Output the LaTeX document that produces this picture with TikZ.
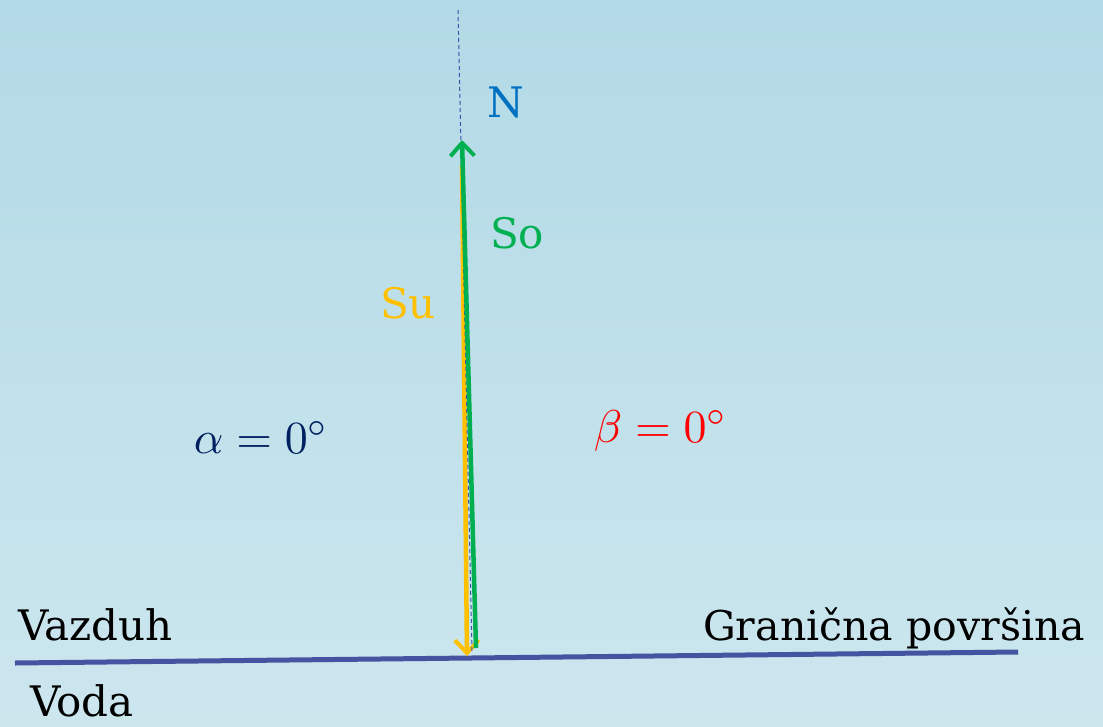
\documentclass[tikz,border=0pt]{standalone}
\usepackage[no-math]{fontspec}
\setmainfont{DejaVu Serif}
\usetikzlibrary{arrows.meta}
\definecolor{bgtop}{RGB}{178,218,230}
\definecolor{bgbot}{RGB}{204,230,238}
\definecolor{surf}{RGB}{68,84,160}
\definecolor{normc}{RGB}{60,80,170}
\definecolor{greenc}{RGB}{0,176,80}
\definecolor{yellowc}{RGB}{255,192,0}
\definecolor{nblue}{RGB}{0,112,192}
\definecolor{navy}{RGB}{0,32,96}
\begin{document}
\begin{tikzpicture}[x=1pt,y=-1pt,
  lbl/.style={font=\fontsize{42}{50}\selectfont, inner sep=0pt, anchor=base west},
  mlbl/.style={font=\fontsize{10}{12}\selectfont, scale=4.6, inner sep=0pt, anchor=base west},
  ray/.style={line width=4.5pt, -{Straight Barb[length=13pt,width=24pt,line width=4pt]}}]
\shade[top color=bgtop,bottom color=bgbot] (0,0) rectangle (1103,726);
\useasboundingbox (0,0) rectangle (1103,726);
% coordinates
\coordinate (ntop) at (458,10);
\coordinate (nbot) at (472,652);
\coordinate (sL) at (15,663);
\coordinate (sR) at (1018,652);
\coordinate (gS) at (476,648);
\coordinate (gE) at (462,140);
\coordinate (yS) at (462,165);
\coordinate (yE) at (467,656);
% surface
\draw[surf, line width=5pt] (sL) -- (sR);
% rays
\draw[ray, yellowc] (yS) -- (yE);
\draw[normc, line width=1pt, dash pattern=on 4pt off 3pt] (ntop) -- (nbot);
\draw[ray, greenc] (gS) -- (gE);
% labels
\node[lbl, text=nblue] (N) at (487,117) {N};
\node[lbl, text=greenc] (So) at (490,248) {So};
\node[lbl, text=yellowc] (Su) at (380,318) {Su};
\node[mlbl, text=navy] (alpha) at (193,453) {$\alpha = 0^\circ$};
\node[mlbl, text=red] (beta) at (593,442) {$\beta = 0^\circ$};
\node[lbl] (vazduh) at (18,640) {Vazduh};
\node[lbl, font=\fontsize{41}{50}\selectfont] (gran) at (703,640) {Granična površina};
\node[lbl] (voda) at (30,716) {Voda};
\end{tikzpicture}
\end{document}
